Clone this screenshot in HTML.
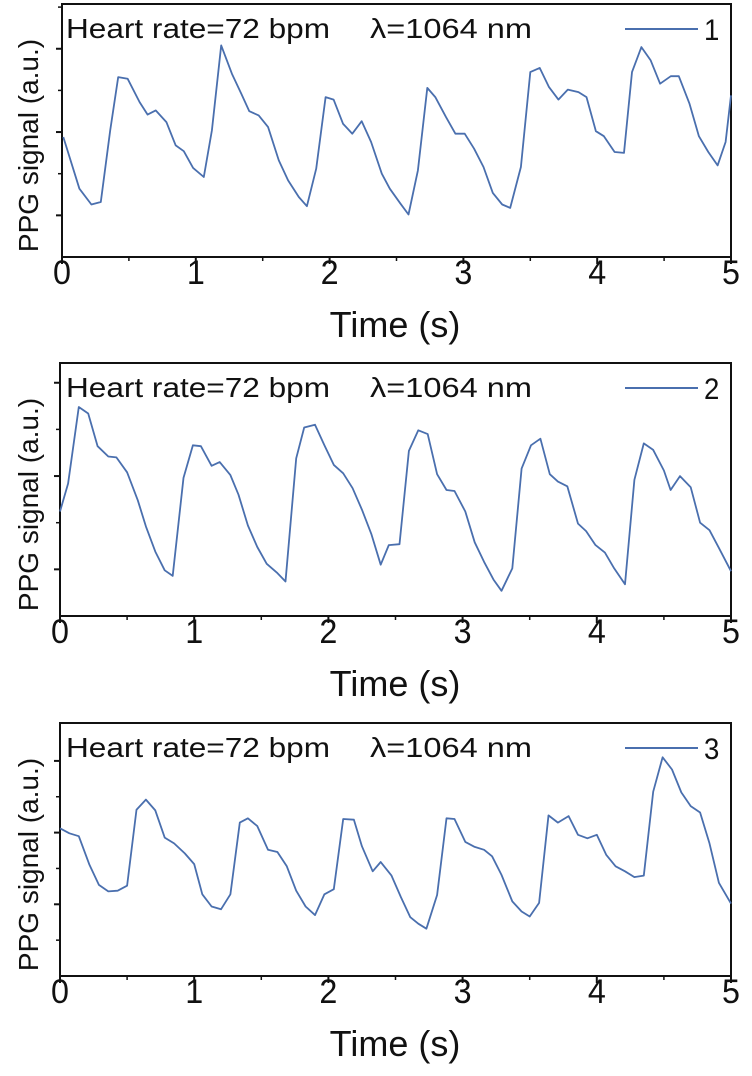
<!DOCTYPE html>
<html><head><meta charset="utf-8"><style>
html,body{margin:0;padding:0;background:#fff;}
svg{display:block;font-family:"Liberation Sans",Arial,sans-serif;}
</style></head><body>
<svg id="chart" width="752" height="1076" viewBox="0 0 752 1076" xmlns="http://www.w3.org/2000/svg"></svg>
<script>
const xTicks=[0,1,2,3,4,5];
const t1=[0.01,0.13,0.22,0.29,0.36,0.42,0.49,0.58,0.64,0.70,0.78,0.85,0.91,0.98,1.06,1.12,1.19,1.27,1.34,1.40,1.47,1.54,1.62,1.69,1.77,1.83,1.90,1.97,2.03,2.10,2.17,2.24,2.31,2.39,2.45,2.53,2.59,2.66,2.73,2.79,2.87,2.94,3.01,3.08,3.15,3.22,3.29,3.35,3.43,3.50,3.57,3.64,3.71,3.78,3.86,3.92,3.99,4.05,4.13,4.20,4.26,4.33,4.40,4.47,4.55,4.61,4.69,4.76,4.83,4.90,4.96,5.00];
const v1=[1.44,0.82,0.63,0.66,1.52,2.16,2.14,1.86,1.71,1.76,1.62,1.34,1.27,1.07,0.96,1.52,2.54,2.20,1.96,1.75,1.70,1.56,1.16,0.92,0.72,0.61,1.06,1.92,1.89,1.60,1.48,1.63,1.38,1.00,0.82,0.64,0.51,1.04,2.03,1.92,1.68,1.48,1.48,1.30,1.08,0.77,0.63,0.59,1.08,2.22,2.27,2.04,1.89,2.01,1.98,1.92,1.51,1.45,1.26,1.25,2.22,2.52,2.36,2.08,2.17,2.17,1.84,1.45,1.26,1.10,1.38,1.94];
const t2=[0,0.06,0.14,0.21,0.28,0.36,0.42,0.50,0.58,0.64,0.71,0.78,0.84,0.92,0.99,1.05,1.13,1.19,1.27,1.33,1.40,1.47,1.54,1.62,1.68,1.76,1.82,1.90,1.97,2.04,2.11,2.18,2.25,2.32,2.39,2.45,2.53,2.60,2.67,2.74,2.81,2.88,2.94,3.02,3.09,3.16,3.23,3.29,3.37,3.44,3.51,3.58,3.65,3.71,3.78,3.86,3.92,3.99,4.06,4.13,4.21,4.28,4.35,4.42,4.50,4.55,4.62,4.70,4.77,4.84,4.91,5.00];
const v2=[1.12,1.42,2.24,2.17,1.82,1.71,1.70,1.54,1.24,0.96,0.69,0.49,0.43,1.48,1.83,1.82,1.61,1.65,1.51,1.30,0.97,0.74,0.56,0.46,0.37,1.69,2.02,2.05,1.83,1.62,1.53,1.37,1.14,0.88,0.55,0.76,0.77,1.77,1.99,1.95,1.52,1.35,1.34,1.12,0.79,0.58,0.39,0.27,0.51,1.58,1.83,1.90,1.52,1.44,1.39,0.99,0.91,0.76,0.68,0.51,0.34,1.46,1.85,1.78,1.56,1.35,1.50,1.38,1.00,0.92,0.73,0.48];
const t3=[0,0.07,0.14,0.22,0.29,0.36,0.43,0.50,0.57,0.64,0.71,0.78,0.85,0.93,1.00,1.06,1.13,1.20,1.27,1.34,1.40,1.47,1.55,1.62,1.69,1.76,1.83,1.90,1.97,2.04,2.11,2.19,2.25,2.33,2.39,2.47,2.54,2.61,2.67,2.73,2.81,2.88,2.94,3.02,3.09,3.16,3.22,3.29,3.37,3.44,3.50,3.57,3.64,3.71,3.79,3.86,3.93,4.00,4.07,4.14,4.21,4.28,4.35,4.42,4.49,4.56,4.63,4.70,4.77,4.84,4.91,5.00];
const v3=[2.06,1.99,1.95,1.55,1.27,1.18,1.19,1.26,2.32,2.46,2.31,1.93,1.85,1.71,1.56,1.14,0.97,0.93,1.14,2.14,2.20,2.09,1.76,1.73,1.53,1.19,0.97,0.85,1.14,1.21,2.19,2.18,1.81,1.46,1.59,1.40,1.10,0.82,0.73,0.66,1.13,2.20,2.19,1.87,1.80,1.76,1.67,1.41,1.04,0.90,0.83,1.02,2.24,2.14,2.23,1.97,1.92,1.97,1.69,1.53,1.46,1.38,1.40,2.57,3.05,2.88,2.56,2.37,2.28,1.85,1.30,1.01];
const labels=["1","2","3"];
const majY=[[0.5,1.5,2.5],[0.5,1.5,2.5],[1.0,2.0,3.0]];
const minY=[[1,2,3],[1,2],[0.5,1.5,2.5]];
const panels=[
 {t:t1,v:v1,L:62,R:731,T:4,B:257,unit:83.3},
 {t:t2,v:v2,L:60,R:731,T:363,B:616,unit:93.3},
 {t:t3,v:v3,L:60,R:731,T:723,B:976,unit:71.7}
];
const NS="http://www.w3.org/2000/svg";
const svg=document.getElementById('chart');
function mk(tag,attrs,parent){const e=document.createElementNS(NS,tag);for(const k in attrs)e.setAttribute(k,attrs[k]);(parent||svg).appendChild(e);return e;}
panels.forEach((p,i)=>{
 const g=mk('g',{});
 
 
 const xs=x=>p.L+(x/5)*(p.R-p.L);
 const ys=v=>p.B-v*p.unit;
 const frame=mk('rect',{x:p.L,y:p.T,width:p.R-p.L,height:p.B-p.T,fill:'none',stroke:'#111','stroke-width':2},g);
 
 
 xTicks.forEach(x=>{
  const tk=mk('line',{x1:xs(x),x2:xs(x),y1:p.B,y2:p.B+7,stroke:'#111','stroke-width':2},g);
  
  
  if(x<5){const m=mk('line',{x1:xs(x+0.5),x2:xs(x+0.5),y1:p.B,y2:p.B+4,stroke:'#111','stroke-width':1.5},g);
  
  }
  const tl=mk('text',{x:0,y:0,'font-size':34,'text-anchor':'middle',fill:'#111',transform:`translate(${xs(x)},${p.B+27}) scale(0.95,1)`},g);
  tl.textContent=x;
  
  
 });
 majY[i].forEach(v=>{const tk=mk('line',{x1:p.L-6,x2:p.L,y1:ys(v),y2:ys(v),stroke:'#111','stroke-width':2},g);
  
  });
 minY[i].forEach(v=>{const tk=mk('line',{x1:p.L-4,x2:p.L,y1:ys(v),y2:ys(v),stroke:'#111','stroke-width':1.5},g);
  
  });
 const xt=mk('text',{x:395,y:p.B+80,'font-size':36,'text-anchor':'middle',fill:'#111'},g);
 xt.textContent='Time (s)';
 
 
 const cy=(p.T+p.B)/2+15;
 const yt=mk('text',{x:0,y:0,'font-size':28,'text-anchor':'middle',fill:'#111',transform:`translate(38,${cy}) rotate(-90)`},g);
 yt.textContent='PPG signal (a.u.)';
 
 
 const a1=mk('text',{x:66,y:p.T+34,'font-size':28,fill:'#111',textLength:264,lengthAdjust:'spacingAndGlyphs'},g);
 a1.textContent='Heart rate=72 bpm';
 
 
 const a2=mk('text',{x:370,y:p.T+34,'font-size':28,fill:'#111',textLength:162,lengthAdjust:'spacingAndGlyphs'},g);
 a2.textContent='λ=1064 nm';
 
 
 const ll=mk('line',{x1:625,x2:698,y1:p.T+25,y2:p.T+25,stroke:'#4a6fae','stroke-width':2},g);
 
 
 const lt=mk('text',{x:0,y:0,'font-size':30,fill:'#111',transform:`translate(704,${p.T+36}) scale(0.92,1)`},g);
 lt.textContent=labels[i];
 
 
 const d=p.t.map((t,k)=>(k?'L':'M')+xs(t).toFixed(1)+','+ys(p.v[k]).toFixed(1)).join(' ');
 const path=mk('path',{d:d,fill:'none',stroke:'#4a6fae','stroke-width':1.8,'stroke-linejoin':'round'},g);
 
 
});
</script>
</body></html>
